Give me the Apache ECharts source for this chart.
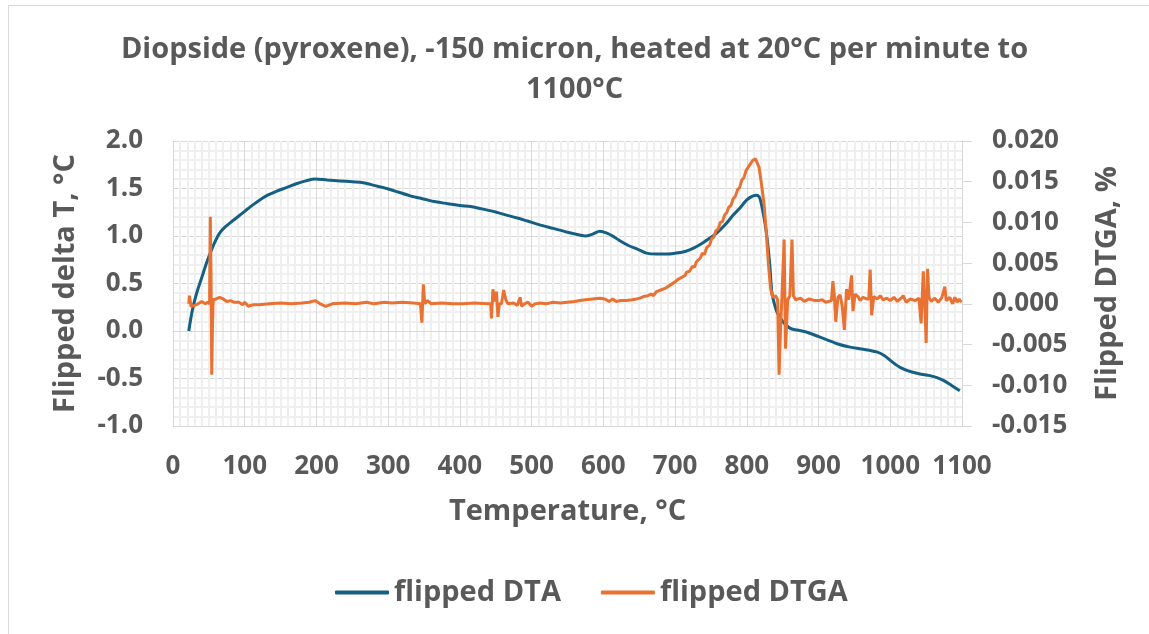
<!DOCTYPE html>
<html>
<head>
<meta charset="utf-8">
<script src="https://cdn.jsdelivr.net/npm/echarts@6/dist/echarts.min.js"></script>
<style>
  html, body { margin: 0; padding: 0; background: #fff; overflow: hidden; }
  #frame { position: absolute; left: 8px; top: 5px; width: 1200px; height: 700px; border: 1px solid #d9d9d9; box-sizing: border-box; }
  #chart { position: absolute; left: 0; top: 0; width: 1149px; height: 634px; }
</style>
</head>
<body>
<div id="frame"></div>
<div id="chart"></div>
<script>
// flipped DTA (left axis, °C)
var dtaTemp = [22, 27, 33, 40, 46, 52, 58, 65, 72, 80, 90, 100, 110, 121, 132, 144, 158, 172, 185, 198,
  215, 233, 250, 265, 282, 298, 315, 332, 349, 366, 383, 400, 415, 428, 440, 451, 465, 480, 493, 510,
  530, 550, 567, 575, 585, 595, 605, 615, 623, 635, 648, 660, 675, 690, 702, 715, 725, 735, 747, 758,
  770, 781, 791, 800, 808, 814, 818, 821, 825, 828, 832, 835, 839, 842, 850, 860, 870, 883, 897, 911,
  928, 944, 960, 981, 992, 1000, 1007, 1013, 1025, 1040, 1055, 1065, 1074, 1085, 1097];
var dtaValues = [0.00, 0.22, 0.40, 0.56, 0.70, 0.82, 0.93, 1.03, 1.09, 1.14, 1.20, 1.26, 1.32, 1.38, 1.43, 1.47, 1.51, 1.55, 1.58, 1.60,
  1.59, 1.58, 1.57, 1.56, 1.53, 1.50, 1.46, 1.42, 1.39, 1.36, 1.34, 1.32, 1.31, 1.29, 1.27, 1.25, 1.22, 1.19, 1.16, 1.12,
  1.08, 1.04, 1.01, 1.00, 1.02, 1.05, 1.03, 0.99, 0.95, 0.90, 0.86, 0.82, 0.81, 0.81, 0.82, 0.84, 0.87, 0.91, 0.97, 1.03,
  1.12, 1.22, 1.30, 1.38, 1.42, 1.43, 1.40, 1.31, 1.15, 0.99, 0.70, 0.40, 0.27, 0.20, 0.10, 0.03, 0.01, -0.01, -0.05, -0.09,
  -0.14, -0.17, -0.19, -0.22, -0.26, -0.31, -0.35, -0.38, -0.42, -0.45, -0.47, -0.49, -0.52, -0.57, -0.63];

// flipped DTGA (right axis, %)
var dtgaTemp = [22, 23, 25, 30, 35, 40, 45, 48, 51, 52, 53, 54, 55, 56, 60, 65, 70, 75, 80, 85,
  92, 97, 100, 105, 112, 120, 135, 150, 165, 180, 190, 198, 205, 213, 222, 240, 255, 270, 280, 295,
  305, 320, 335, 345, 347, 349, 351, 355, 360, 375, 390, 405, 420, 438, 443, 444, 446, 449, 451, 453,
  455, 458, 461, 464, 467, 475, 480, 484, 486, 490, 495, 500, 505, 512, 520, 530, 540, 550, 560, 567,
  575, 585, 595, 602, 608, 613, 618, 623, 632, 640, 646, 651, 656, 662, 667, 670, 674, 680, 686, 693,
  700, 704, 706, 710, 714, 716, 720, 724, 727, 730, 735, 738, 741, 744, 748, 751, 754, 757, 760, 763,
  766, 769, 772, 775, 778, 781, 784, 787, 790, 793, 796, 799, 802, 805, 808, 810, 812, 814, 817,
  820, 824, 827, 830, 833, 836, 840, 843, 845, 847, 849, 852, 854, 857, 860, 863, 865, 868,
  875, 880, 887, 895, 900, 905, 910, 918, 920, 922, 924, 927, 930, 933, 936, 939, 942, 946, 948, 951,
  955, 958, 962, 967, 970, 972, 974, 977, 982, 986, 990, 995, 1000, 1005, 1010, 1015, 1018, 1022, 1028, 1035,
  1040, 1043, 1046, 1048, 1050, 1052, 1054, 1057, 1062, 1067, 1072, 1076, 1078, 1083, 1087, 1090, 1093, 1096, 1099];
var dtgaValues = [0.0000, 0.0010, -0.0003, -0.0002, 0.0000, 0.0003, 0.0000, 0.0002, 0.0000, 0.0107, 0.0040, -0.0087, -0.0030, 0.0005, 0.0006, 0.0008, 0.0006, 0.0003, 0.0004, 0.0002,
  0.0002, -0.0001, 0.0002, -0.0003, -0.0001, -0.0001, 0.0000, 0.0001, 0.0000, 0.0001, 0.0002, 0.0004, 0.0000, -0.0003, 0.0000, 0.0001, 0.0000, 0.0002, 0.0000, 0.0002,
  0.0001, 0.0002, 0.0001, 0.0000, -0.0023, 0.0024, 0.0000, 0.0004, 0.0000, 0.0001, 0.0000, 0.0000, 0.0001, 0.0000, 0.0000, -0.0018, 0.0018, 0.0003, 0.0015, -0.0016,
  0.0000, 0.0000, 0.0017, 0.0005, 0.0000, 0.0001, -0.0002, 0.0008, -0.0003, 0.0000, 0.0002, -0.0003, 0.0000, 0.0001, 0.0000, 0.0002, 0.0001, 0.0002, 0.0003, 0.0004,
  0.0005, 0.0006, 0.0007, 0.0006, 0.0003, 0.0006, 0.0003, 0.0004, 0.0004, 0.0005, 0.0006, 0.0007, 0.0009, 0.0010, 0.0012, 0.0010, 0.0015, 0.0017, 0.0019, 0.0023,
  0.0027, 0.0030, 0.0028, 0.0033, 0.0035, 0.0039, 0.0040, 0.0046, 0.0045, 0.0052, 0.0056, 0.0062, 0.0061, 0.0069, 0.0072, 0.0080, 0.0082, 0.0090, 0.0092, 0.0100,
  0.0101, 0.0109, 0.0112, 0.0119, 0.0121, 0.0129, 0.0132, 0.0140, 0.0143, 0.0152, 0.0155, 0.0164, 0.0168, 0.0172, 0.0176, 0.0175, 0.0178, 0.0174, 0.0168,
  0.0150, 0.0123, 0.0090, 0.0050, 0.0020, 0.0008, 0.0010, 0.0005, -0.0087, -0.0030, 0.0010, 0.0079, -0.0055, 0.0005, 0.0010, 0.0079, 0.0010, 0.0005,
  0.0007, 0.0003, 0.0006, 0.0004, 0.0004, 0.0005, 0.0002, 0.0004, 0.0028, 0.0010, -0.0022, 0.0008, 0.0011, -0.0003, -0.0032, 0.0018, 0.0005, 0.0035, -0.0009, 0.0012,
  0.0009, 0.0004, 0.0008, 0.0006, 0.0006, 0.0042, -0.0014, 0.0009, 0.0006, 0.0010, 0.0005, 0.0007, 0.0004, 0.0008, 0.0003, 0.0007, 0.0010, 0.0002, 0.0006, 0.0004,
  0.0007, -0.0024, 0.0040, 0.0002, -0.0048, 0.0043, 0.0008, 0.0003, 0.0007, 0.0002, 0.0008, 0.0021, 0.0004, 0.0008, 0.0000, 0.0008, 0.0002, 0.0006, 0.0002];

var textColor = '#595959';
var fontFamily = '"Open Sans", Roboto, sans-serif';

function pairs(xs, ys) {
  return xs.map(function (x, i) { return [x, ys[i]]; });
}

var chart = echarts.init(document.getElementById('chart'));
chart.setOption({
  animation: false,
  textStyle: { fontFamily: fontFamily },
  title: {
    text: 'Diopside (pyroxene), -150 micron, heated at 20°C per minute to\n1100°C',
    left: 'center',
    top: 25,
    textStyle: { color: textColor, fontSize: 29, fontWeight: 'bold', lineHeight: 40, fontFamily: fontFamily }
  },
  legend: {
    bottom: 22,
    left: 330,
    icon: 'roundRect',
    itemWidth: 54,
    itemHeight: 4,
    itemGap: 40,
    textStyle: { color: textColor, fontSize: 29, fontWeight: 'bold', fontFamily: fontFamily },
    data: ['flipped DTA', 'flipped DTGA']
  },
  grid: { left: 173, right: 187, top: 141, bottom: 208 },
  xAxis: {
    type: 'value',
    min: 0, max: 1100, interval: 100,
    name: 'Temperature, °C',
    nameLocation: 'middle',
    nameGap: 71,
    nameTextStyle: { color: textColor, fontSize: 29, fontWeight: 'bold' },
    axisLine: { show: true, lineStyle: { color: '#d9d9d9', width: 1 } },
    axisTick: { show: false },
    axisLabel: { color: textColor, fontSize: 26, fontWeight: 'bold', margin: 28,
      formatter: function (v) { return String(v); } },
    splitLine: { show: true, lineStyle: { color: '#d9d9d9', width: 1 } },
    minorTick: { show: false, splitNumber: 10 },
    minorSplitLine: { show: true, lineStyle: { color: '#efefef', width: 2 } }
  },
  yAxis: [{
    type: 'value',
    min: -1, max: 2, interval: 0.5,
    name: 'Flipped delta T, °C',
    nameLocation: 'middle',
    nameGap: 93,
    nameTextStyle: { color: textColor, fontSize: 29, fontWeight: 'bold' },
    axisLine: { show: false },
    axisTick: { show: false },
    axisLabel: { color: textColor, fontSize: 26, fontWeight: 'bold', margin: 30,
      formatter: function (v) { return v.toFixed(1); } },
    splitLine: { show: true, lineStyle: { color: '#d9d9d9', width: 1 } },
    minorTick: { show: false, splitNumber: 5 },
    minorSplitLine: { show: true, lineStyle: { color: '#efefef', width: 2 } }
  }, {
    type: 'value',
    min: -0.015, max: 0.02, interval: 0.005,
    name: 'Flipped DTGA, %',
    nameLocation: 'middle',
    nameGap: 131,
    nameRotate: 90,
    nameTextStyle: { color: textColor, fontSize: 29, fontWeight: 'bold' },
    axisLine: { show: true, lineStyle: { color: '#d9d9d9', width: 1 } },
    axisTick: { show: true, length: 10, lineStyle: { color: '#d9d9d9' } },
    axisLabel: { color: textColor, fontSize: 26, fontWeight: 'bold', margin: 30,
      formatter: function (v) { return v.toFixed(3); } },
    splitLine: { show: false }
  }],
  series: [{
    name: 'flipped DTA',
    type: 'line',
    yAxisIndex: 0,
    showSymbol: false,
    symbol: 'none',
    smooth: 0.3,
    color: '#156082',
    lineStyle: { width: 3, color: '#156082' },
    data: pairs(dtaTemp, dtaValues)
  }, {
    name: 'flipped DTGA',
    type: 'line',
    yAxisIndex: 1,
    showSymbol: false,
    symbol: 'none',
    color: '#e97132',
    lineStyle: { width: 3, color: '#e97132' },
    data: pairs(dtgaTemp, dtgaValues)
  }]
});
</script>
</body>
</html>
